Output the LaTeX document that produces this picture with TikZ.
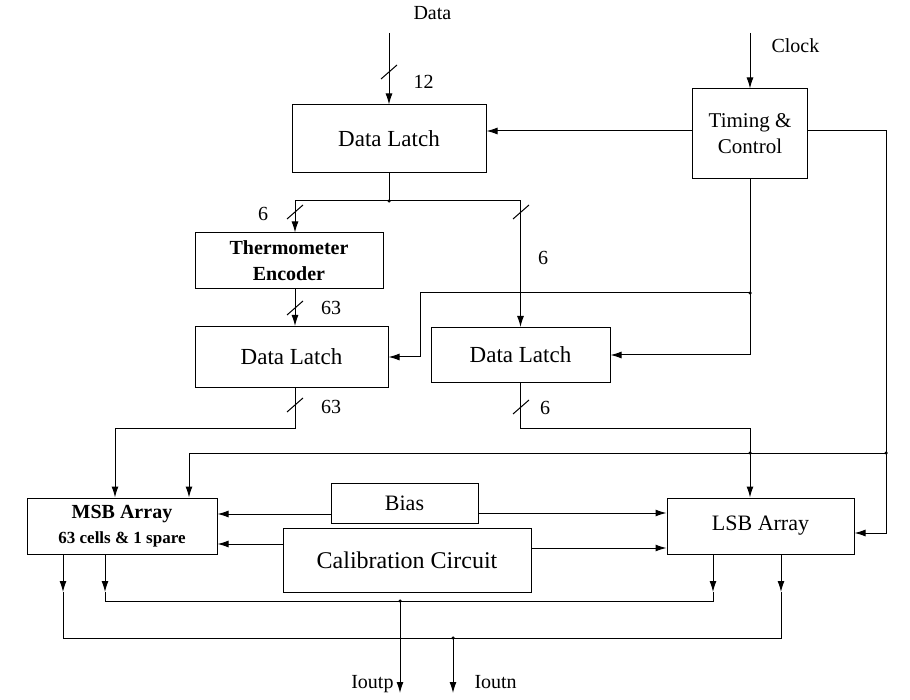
\documentclass[tikz,border=0pt]{standalone}
\usepackage{fontspec}
\setmainfont{Liberation Serif}
\usetikzlibrary{arrows.meta}
\begin{document}
\begin{tikzpicture}[x=1pt,y=-1pt,
  line width=1pt,
  box/.style={draw,rectangle,inner sep=0pt,align=center,font=\fontsize{22}{26}\selectfont},
  arr/.style={-{Latex[length=11pt,width=7pt]}},
  lbl/.style={inner sep=0pt,font=\fontsize{20}{22}\selectfont},
  jdot/.style={circle,fill,inner sep=0pt,minimum size=3.5pt},
  slashmark/.pic={\draw[line width=1pt] (-8,7) -- (8,-7);}]
\useasboundingbox (0,0) rectangle (910,700);

% blocks
\node[box,minimum width=194pt,minimum height=68pt,font=\fontsize{23}{26}\selectfont] (dl1) at (389,139) {Data Latch};
\node[box,minimum width=115pt,minimum height=90pt,font=\fontsize{21}{26}\selectfont] (tc) at (750,134) {Timing \&\\Control};
\node[box,minimum width=188pt,minimum height=56pt,font=\bfseries\fontsize{20}{26}\selectfont] (te) at (289,261) {Thermometer\\Encoder};
\node[box,minimum width=193pt,minimum height=61pt,font=\fontsize{23}{26}\selectfont] (dl2) at (291.5,357) {Data Latch};
\node[box,minimum width=179pt,minimum height=55pt,font=\fontsize{23}{26}\selectfont] (dl3) at (520.5,355) {Data Latch};
\node[box,minimum width=190pt,minimum height=56pt] (msb) at (122,526) {\bfseries\fontsize{20}{22}\selectfont MSB Array\\[-1pt]\bfseries\fontsize{17}{20}\selectfont 63 cells \& 1 spare};
\node[box,minimum width=147pt,minimum height=40pt] (bias) at (404.5,503) {Bias};
\node[box,minimum width=248pt,minimum height=64pt,font=\fontsize{24}{26}\selectfont] (cal) at (407,560) {Calibration Circuit};
\node[box,minimum width=187pt,minimum height=56pt] (lsb) at (760.5,526) {LSB Array};

% coordinates
\coordinate (din) at (389,33);
\coordinate (cin) at (750,33);
\coordinate (sj) at (389,201);
\coordinate (tein) at ([xshift=6pt]te.north);
\coordinate (teout) at ([xshift=6pt]te.south);
\coordinate (tj) at (750,293);
\coordinate (tl) at (420,293);
\coordinate (rb) at (886,453);
\coordinate (mb) at (189,453);
\coordinate (lsbin) at ([yshift=-7pt]lsb.east);
\coordinate (m1) at (115,428);
\coordinate (l1) at (750,428);
\coordinate (a1) at (63,592);
\coordinate (a2) at (105,592);
\coordinate (a3) at (713,592);
\coordinate (a4) at (781,592);
\coordinate (o1) at (63,638);
\coordinate (o2) at (105,601);
\coordinate (o3) at (713,601);
\coordinate (o4) at (781,638);
\coordinate (p) at (400,601);
\coordinate (pe) at (400,693);
\coordinate (n) at (453,638);
\coordinate (ne) at (453,693);

% inputs
\draw[arr] (din) -- (dl1.north);
\node[lbl,anchor=west] (ldata) at (413,13) {Data};
\pic at (389,72) {slashmark};
\node[lbl,anchor=west] (l12) at (413,82) {12};
\draw[arr] (cin) -- (tc.north);
\node[lbl,anchor=west] (lclk) at (771,46) {Clock};

% timing & control
\draw[arr] ([yshift=3pt]tc.west) -- ([yshift=3pt]tc.west -| dl1.east);
\draw[arr] ([yshift=3pt]tc.east) -| (lsbin -| rb) -- (lsbin);
\draw[arr] (rb) -- (mb) -- (mb |- msb.north);
\draw (tc.south) -- (tj);
\draw[arr] (tj) -- (tj |- dl3.east) -- (dl3.east);
\draw[arr] (tj) -- (tl) -- (tl |- dl2.east) -- (dl2.east);

% data path
\draw (dl1.south) -- (sj);
\draw[arr] (sj) -| (tein);
\draw[arr] (sj) -| (dl3.north);
\pic at (295,212) {slashmark};
\node[lbl] (l6a) at (263,214) {6};
\pic at (521,212) {slashmark};
\node[lbl] (l6b) at (543,258) {6};
\draw[arr] (teout) -- (teout |- dl2.north);
\pic at (295,308) {slashmark};
\node[lbl] (l63a) at (331,308) {63};
\draw[arr] (dl2.south -| tein) |- (m1) -- (m1 |- msb.north);
\pic at (295,405) {slashmark};
\node[lbl] (l63b) at (331,407) {63};
\draw[arr] (dl3.south) |- (l1) -- (l1 |- lsb.north);
\pic at (521,407) {slashmark};
\node[lbl] (l6c) at (545,408) {6};

% bias & calibration
\draw[arr] ([yshift=-11pt]bias.west) -- ([yshift=-11pt]bias.west -| msb.east);
\draw[arr] ([yshift=-10pt]bias.east) -- ([yshift=-10pt]bias.east -| lsb.west);
\draw[arr] ([yshift=16pt]cal.west) -- ([yshift=16pt]cal.west -| msb.east);
\draw[arr] ([yshift=12pt]cal.east) -- ([yshift=12pt]cal.east -| lsb.west);

% outputs
\draw[arr] (msb.south -| a1) -- (a1);
\draw[arr] (msb.south -| a2) -- (a2);
\draw[arr] (lsb.south -| a3) -- (a3);
\draw[arr] (lsb.south -| a4) -- (a4);
\draw (a1) -- (o1) -- (o4) -- (a4);
\draw (a2) -- (o2) -- (o3) -- (a3);
\draw[arr] (p) -- (pe);
\draw[arr] (n) -- (ne);
\node[lbl,anchor=east] (lp) at (394,684) {Ioutp};
\node[lbl,anchor=west] (ln) at (474,682) {Ioutn};

% junction dots
\node[jdot] at (sj) {};
\node[jdot] at (tj) {};
\node[jdot] at (rb) {};
\node[jdot] at (750,453) {};
\node[jdot] at (p) {};
\node[jdot] at (n) {};
\end{tikzpicture}
\end{document}
